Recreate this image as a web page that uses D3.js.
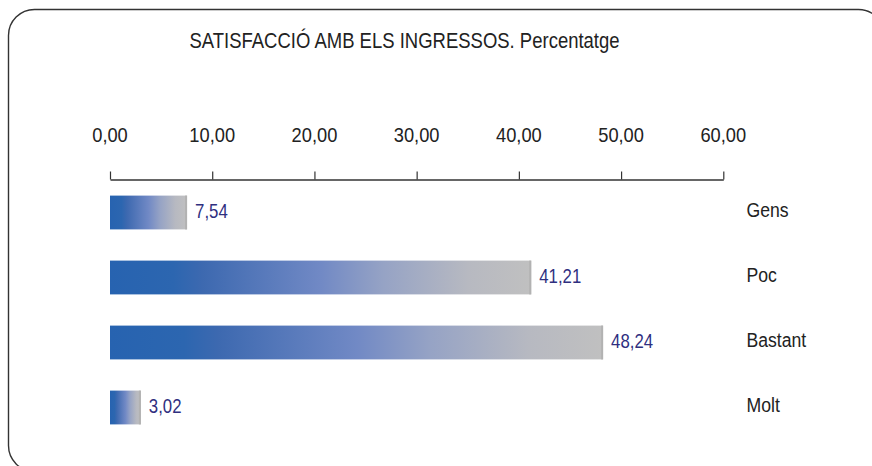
<!DOCTYPE html>
<html>
<head>
<meta charset="utf-8">
<script src="https://cdn.jsdelivr.net/npm/d3@7"></script>
<style>
  html, body { margin: 0; padding: 0; background: #fff; }
  svg { display: block; }
  text { font-family: "Liberation Sans", Arial, sans-serif; }
</style>
</head>
<body>
<svg id="chart" width="872" height="466"></svg>
<script>
// Data
const title = "SATISFACCIÓ AMB ELS INGRESSOS. Percentatge";
const categories = ["Gens", "Poc", "Bastant", "Molt"];
const values = [7.54, 41.21, 48.24, 3.02];
const tickValues = [0, 10, 20, 30, 40, 50, 60];

const fmt = v => d3.format(".2f")(v).replace(".", ",");

const svg = d3.select("#chart");
const sx = 0.84; // narrow letterforms

// Frame
svg.append("rect")
  .attr("x", 8.5).attr("y", 9.5)
  .attr("width", 876).attr("height", 462)
  .attr("rx", 26).attr("ry", 26)
  .attr("fill", "#fff")
  .attr("stroke", "#333").attr("stroke-width", 1.4);

// Narrowed text helper
function label(g, x, y, str, opts) {
  return g.append("text")
    .attr("transform", `translate(${x},${y}) scale(${opts.sx || sx},1)`)
    .attr("text-anchor", opts.anchor || "start")
    .attr("font-size", opts.size || 21)
    .attr("fill", opts.fill || "#222")
    .text(str);
}

// Title
label(svg, 404.5, 48, title, { anchor: "middle", size: 21.5, fill: "#222", sx: 0.86 });

// Scales
const x = d3.scaleLinear().domain([0, 60]).range([110, 723.3]);
const y = d3.scaleBand().domain(categories).range([180, 440]).paddingInner(0.48).paddingOuter(0.24);

// Gradient
const defs = svg.append("defs");
const grad = defs.append("linearGradient").attr("id", "barGrad")
  .attr("x1", "0%").attr("x2", "100%").attr("y1", "0%").attr("y2", "0%");
[
  [0, "#2763b0"], [0.15, "#2c66b0"], [0.22, "#3d69b0"],
  [0.5, "#7189c5"], [0.65, "#96a3c5"], [0.85, "#b7b9c1"], [1, "#c0c0c0"]
].forEach(([o, c]) => grad.append("stop").attr("offset", o).attr("stop-color", c));

// Axis on top
const axisY = 179.5;
const axisG = svg.append("g").attr("transform", `translate(0,${axisY})`);
axisG.call(d3.axisTop(x).tickValues(tickValues).tickSize(8).tickSizeOuter(0).tickFormat(""));
axisG.select(".domain").attr("stroke", "#333").attr("stroke-width", 1.3);
axisG.selectAll(".tick line").attr("stroke", "#333").attr("stroke-width", 1.2);

tickValues.forEach(t => label(svg, x(t), 142, fmt(t), { anchor: "middle", size: 21, fill: "#222", sx: 0.87 }));

// Bars
const bars = svg.append("g");
categories.forEach((c, i) => {
  const v = values[i];
  const y0 = y(c), bh = y.bandwidth();
  bars.append("rect")
    .attr("x", x(0)).attr("y", y0)
    .attr("width", x(v) - x(0)).attr("height", bh)
    .attr("fill", "url(#barGrad)");
  bars.append("rect")
    .attr("x", x(v) - 2).attr("y", y0)
    .attr("width", 2).attr("height", bh)
    .attr("fill", "#b2b2b2");
  label(svg, x(v) + 8, y0 + bh / 2 + 5, fmt(v), { size: 20, fill: "#2f2f7f" });
  label(svg, 746.5, y0 + bh / 2 + 4.5, c, { size: 21, fill: "#222" });
});
</script>
</body>
</html>
